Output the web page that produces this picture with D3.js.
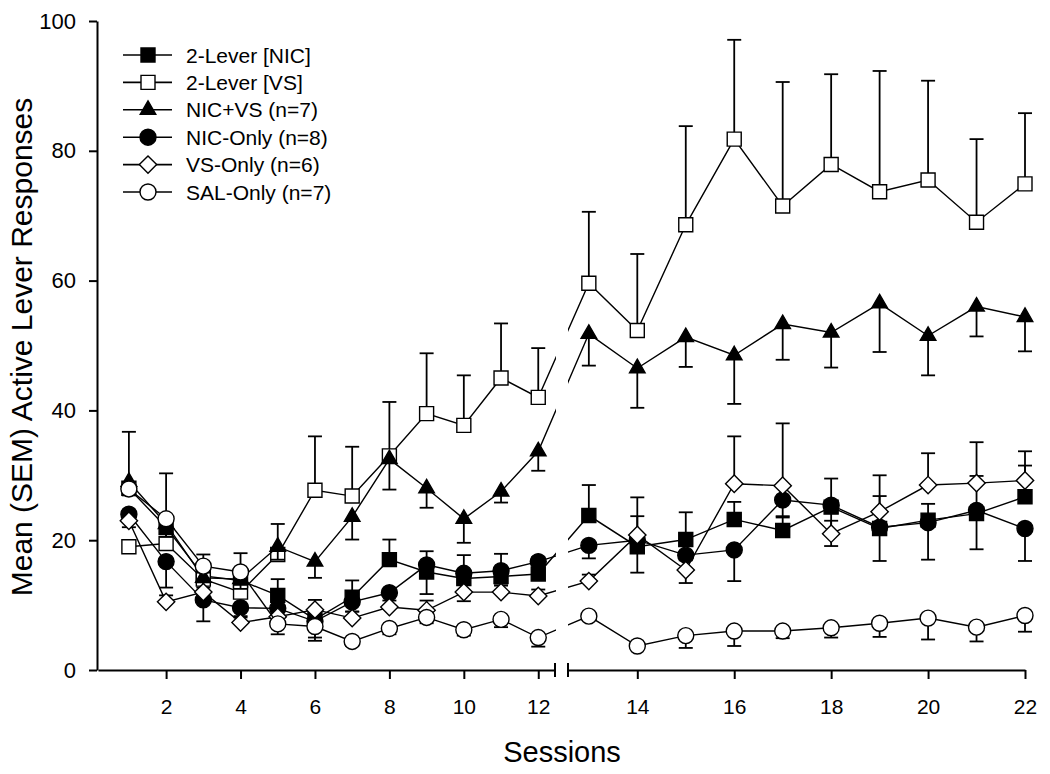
<!DOCTYPE html>
<html><head><meta charset="utf-8">
<script src="https://cdn.jsdelivr.net/npm/d3@7"></script>
<style>
body{margin:0;background:#fff}
svg{display:block}
text{font-family:"Liberation Sans",Arial,Helvetica,sans-serif;fill:#000}
</style>
</head><body>
<svg id="chart" width="1050" height="774"></svg>
<script>
// ---------------- data ----------------
const sessions = [1,2,3,4,5,6,7,8,9,10,11,12,13,14,15,16,17,18,19,20,21,22];
const xTicksLeft = [2,4,6,8,10,12];
const xTicksRight = [14,16,18,20,22];
const yTicks = [0,20,40,60,80,100];
const seriesNames = ["2-Lever [NIC]","2-Lever [VS]","NIC+VS (n=7)","NIC-Only (n=8)","VS-Only (n=6)","SAL-Only (n=7)"];

const lever2NIC    = [28, 22, 14.5, 13.8, 11.5, 7.8, 11.2, 17, 15.1, 14.1, 14.4, 14.8, 23.8, 19, 20.1, 23.2, 21.5, 25.1, 21.8, 23.1, 24.1, 26.7];
const lever2NICErr = [8.7, 8.3, 3.3, 4.2, 2.5, 1.5, 2.6, 3.1, 3.2, 3.6, 3.5, 2.6, 4.7, 4.7, 4.2, 2.7, 2, 4.4, 5, 2.5, 5.8, 4.8];

const lever2VS     = [19, 19.5, 14, 12, 17.8, 27.7, 26.8, 33, 39.5, 37.7, 45, 42, 59.6, 52.3, 68.6, 81.8, 71.5, 77.9, 73.7, 75.5, 69, 74.9];
const lever2VSErr  = [1, 1.5, 1.5, 1.5, 4.7, 8.3, 7.6, 8.3, 9.3, 7.7, 8.4, 7.6, 11, 11.8, 15.2, 15.3, 19.1, 13.9, 18.6, 15.3, 12.8, 10.9];

const nicVS        = [29, 22.5, 14.2, 14, 19, 16.7, 23.6, 32.5, 28, 23.3, 27.5, 33.7, 51.8, 46.5, 51.3, 48.5, 53.3, 52, 56.5, 51.5, 56, 54.4];
const nicVSErr     = [2, 2, 1.5, 1.5, 2, 2.5, 3.5, 4.7, 3, 3.7, 1.7, 3, 4.9, 6.1, 4.6, 7.5, 5.5, 5.4, 7.5, 6.1, 4.6, 5.3];

const nicOnly      = [24, 16.7, 10.8, 9.6, 9.5, 7.5, 10.5, 11.9, 16.2, 14.9, 15.3, 16.7, 19.2, 20, 17.7, 18.5, 26.2, 25.4, 22, 22.7, 24.6, 21.8];
const nicOnlyErr   = [2, 4, 3.3, 1.5, 1.5, 2.5, 1.5, 2, 4.5, 4.3, 2, 1.5, 2, 5, 4.3, 4.8, 2.5, 6.3, 5.2, 5.7, 6, 5];

const vsOnly       = [23, 10.5, 12, 7.3, 8.2, 9.3, 8, 9.7, 9.2, 12, 12, 11.4, 13.7, 20.8, 15.4, 28.7, 28.4, 21, 24.4, 28.5, 28.8, 29.2];
const vsOnlyErr    = [1.5, 1, 1.5, 1, 1, 1.5, 1, 1, 1.5, 1.5, 1, 1, 1, 5.8, 1.5, 7.3, 9.6, 2, 5.6, 4.9, 6.3, 4.5];

const salOnly      = [27.9, 23.3, 16, 15.1, 7.1, 6.7, 4.4, 6.4, 8.1, 6.2, 7.8, 5, 8.3, 3.7, 5.3, 6, 6, 6.5, 7.2, 8, 6.6, 8.4];
const salOnlyErr   = [1, 1.5, 1, 1, 1.6, 2.2, 0.7, 0.9, 0.9, 0.9, 1.2, 1.4, 0.5, 0.5, 1.9, 2.3, 1.1, 1.5, 2.1, 3.3, 2.2, 2.5];

// ---------------- setup ----------------
const svg = d3.select("#chart");
const y = d3.scaleLinear().domain([0,100]).range([670,21]);
const xLeft = d3.scaleLinear().domain([0.17,12.45]).range([98,555]);
const xRight = d3.scaleLinear().domain([12.57,22]).range([568,1025]);
const xPos = s => s <= 12.5 ? xLeft(s) : xRight(s);

const series = [
  {name: seriesNames[0], values: lever2NIC, err: lever2NICErr, dir: 1,  sym: "square",   fill: "#000"},
  {name: seriesNames[1], values: lever2VS,  err: lever2VSErr,  dir: 1,  sym: "square",   fill: "#fff"},
  {name: seriesNames[2], values: nicVS,     err: nicVSErr,     dir: -1, sym: "triangle", fill: "#000"},
  {name: seriesNames[3], values: nicOnly,   err: nicOnlyErr,   dir: -1, sym: "circle",   fill: "#000"},
  {name: seriesNames[4], values: vsOnly,    err: vsOnlyErr,    dir: 1,  sym: "diamond",  fill: "#fff"},
  {name: seriesNames[5], values: salOnly,   err: salOnlyErr,   dir: -1, sym: "circle",   fill: "#fff"}
];

const symGen = {
  square:   d3.symbol(d3.symbolSquare, 196),
  triangle: d3.symbol(d3.symbolTriangle, 105),
  circle:   d3.symbol(d3.symbolCircle, 201),
  diamond:  d3.symbol(d3.symbolSquare, 150)
};
const symRot = s => s === "diamond" ? " rotate(45)" : "";

// clip for the axis break gap in connecting lines
const defs = svg.append("defs");
const cp = defs.append("clipPath").attr("id","breakclip");
cp.append("rect").attr("x",0).attr("y",0).attr("width",556).attr("height",774);
cp.append("rect").attr("x",568).attr("y",0).attr("width",482).attr("height",774);

// ---------------- axes ----------------
const yAxis = svg.append("g").attr("transform","translate(97,0)")
  .call(d3.axisLeft(y).tickValues(yTicks).tickSize(8).tickSizeOuter(0).tickPadding(13));
yAxis.selectAll("text").style("font-size","22px");

const xAxisL = svg.append("g").attr("transform","translate(0,670)")
  .call(d3.axisBottom(xLeft).tickValues(xTicksLeft).tickSize(9).tickSizeOuter(0).tickPadding(20));
const xAxisR = svg.append("g").attr("transform","translate(0,670)")
  .call(d3.axisBottom(xRight).tickValues(xTicksRight).tickSize(9).tickSizeOuter(0).tickPadding(20));
[xAxisL, xAxisR].forEach(g => g.selectAll("text").style("font-size","21px"));
[yAxis, xAxisL, xAxisR].forEach(g => {
  g.selectAll("path.domain").attr("stroke","#000").attr("stroke-width",2);
  g.selectAll(".tick line").attr("stroke","#000").attr("stroke-width",2);
  g.attr("font-family",null);
});
// break marks at the axis ends
[xLeft.range()[1], xRight.range()[0]].forEach(bx => {
  svg.append("line").attr("x1",bx).attr("x2",bx).attr("y1",663).attr("y2",677)
    .attr("stroke","#000").attr("stroke-width",2);
});

// axis titles
svg.append("text").attr("x",562).attr("y",762).attr("text-anchor","middle")
  .style("font-size","29px").text("Sessions");
svg.append("text").attr("transform","translate(32,347) rotate(-90)").attr("text-anchor","middle")
  .style("font-size","30px").text("Mean (SEM) Active Lever Responses");

// ---------------- series ----------------
const line = d3.line().x((d,i) => xPos(sessions[i])).y(d => y(d));

series.forEach(s => {
  const g = svg.append("g");
  // connecting line (with break gap)
  g.append("path").datum(s.values).attr("d", line)
    .attr("fill","none").attr("stroke","#000").attr("stroke-width",1.4)
    .attr("clip-path","url(#breakclip)");
  // error bars
  const eb = g.append("g");
  s.values.forEach((v,i) => {
    const x0 = xPos(sessions[i]);
    const yEnd = y(v + s.dir * s.err[i]);
    eb.append("line").attr("x1",x0).attr("x2",x0).attr("y1",y(v)).attr("y2",yEnd)
      .attr("stroke","#000").attr("stroke-width",1.8);
    eb.append("line").attr("x1",x0-7).attr("x2",x0+7).attr("y1",yEnd).attr("y2",yEnd)
      .attr("stroke","#000").attr("stroke-width",1.8);
  });
  // markers
  g.selectAll("path.mk").data(s.values).enter().append("path").attr("class","mk")
    .attr("d", symGen[s.sym]())
    .attr("transform",(d,i) => `translate(${xPos(sessions[i])},${y(d)})` + symRot(s.sym))
    .attr("fill", s.fill).attr("stroke","#000").attr("stroke-width",1.4);
});

// ---------------- legend ----------------
const lg = svg.append("g");
series.forEach((s,i) => {
  const ly = 55 + i*27.4;
  lg.append("line").attr("x1",123).attr("x2",172).attr("y1",ly).attr("y2",ly)
    .attr("stroke","#000").attr("stroke-width",1.6);
  lg.append("path").attr("d", symGen[s.sym]())
    .attr("transform",`translate(148,${ly})` + symRot(s.sym))
    .attr("fill", s.fill).attr("stroke","#000").attr("stroke-width",1.4);
  lg.append("text").attr("x",186).attr("y",ly).attr("dy","0.36em")
    .style("font-size","21px").text(s.name);
});
</script>
</body></html>
